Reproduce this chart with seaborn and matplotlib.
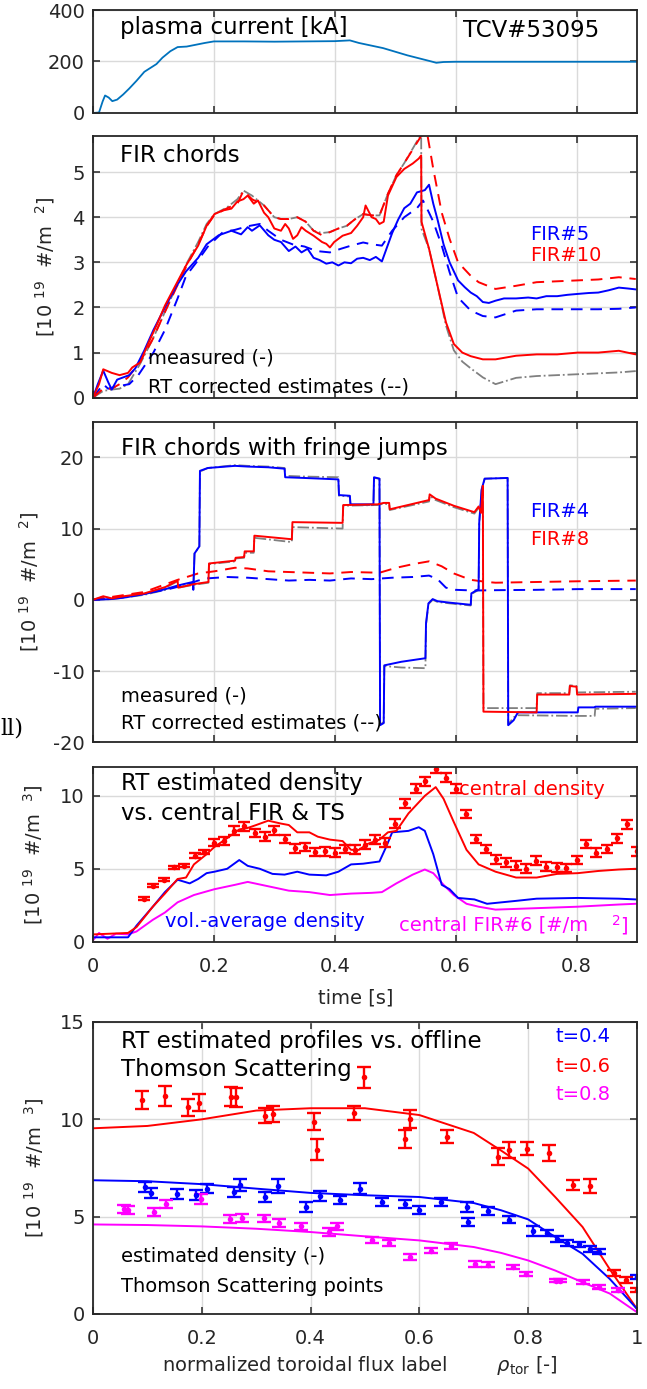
import numpy as np
import matplotlib
matplotlib.use("Agg")
import matplotlib.pyplot as plt
import seaborn as sns

# ---------------- data ----------------
# Panel 1: plasma current [kA]
t_ip = [0, 0.010, 0.016, 0.020, 0.026, 0.032, 0.040, 0.050, 0.060, 0.072, 0.085, 0.095, 0.105, 0.115,
        0.128, 0.140, 0.155, 0.170, 0.185, 0.200, 0.25, 0.30, 0.35, 0.40, 0.425, 0.44, 0.46, 0.48, 0.50,
        0.52, 0.54, 0.56, 0.568, 0.58, 0.60, 0.70, 0.80, 0.90]
ip = [0, 2, 45, 68, 60, 46, 52, 72, 95, 125, 160, 175, 190, 215, 240, 256, 258, 265, 272, 278, 278, 277,
      278, 279, 282, 272, 262, 252, 238, 224, 212, 200, 195, 198, 199, 199, 199, 199]

# Panel 2: FIR chords
t_f5 = [0, 0.008, 0.017, 0.025, 0.031, 0.04, 0.05, 0.06, 0.07, 0.085, 0.1, 0.119, 0.137, 0.154, 0.174, 0.188,
        0.208, 0.229, 0.245, 0.256, 0.263, 0.276, 0.29, 0.3, 0.311, 0.324, 0.335, 0.345, 0.355, 0.365, 0.375,
        0.386, 0.396, 0.406, 0.416, 0.427, 0.437, 0.447, 0.458, 0.468, 0.478, 0.495, 0.505, 0.515, 0.525,
        0.536, 0.549, 0.556, 0.563, 0.57, 0.58, 0.59, 0.604, 0.615, 0.625, 0.635, 0.645, 0.655, 0.666, 0.68,
        0.7, 0.72, 0.734, 0.75, 0.768, 0.785, 0.802, 0.82, 0.836, 0.853, 0.87, 0.885, 0.898]
fir5 = [0, 0.3, 0.6, 0.35, 0.18, 0.4, 0.45, 0.5, 0.65, 1.05, 1.5, 2.0, 2.45, 2.8, 3.1, 3.4, 3.6, 3.7, 3.62,
        3.78, 3.7, 3.82, 3.6, 3.5, 3.45, 3.25, 3.35, 3.22, 3.3, 3.1, 3.05, 2.97, 3.0, 2.93, 3.0, 2.98, 3.08,
        3.1, 3.05, 3.12, 3.02, 3.65, 3.95, 4.2, 4.3, 4.55, 4.6, 4.72, 4.3, 3.95, 3.4, 3.0, 2.6, 2.45, 2.33,
        2.25, 2.12, 2.1, 2.15, 2.2, 2.2, 2.22, 2.2, 2.25, 2.25, 2.28, 2.3, 2.32, 2.33, 2.38, 2.44, 2.42, 2.4]
t_f5r = [0, 0.017, 0.025, 0.04, 0.06, 0.075, 0.1, 0.119, 0.14, 0.154, 0.174, 0.19, 0.215, 0.235, 0.256, 0.276,
         0.29, 0.311, 0.33, 0.35, 0.37, 0.392, 0.41, 0.427, 0.447, 0.461, 0.478, 0.495, 0.515, 0.536, 0.546,
         0.556, 0.563, 0.577, 0.59, 0.604, 0.625, 0.645, 0.666, 0.7, 0.734, 0.768, 0.802, 0.836, 0.87, 0.898]
fir5_rt = [0, 0.3, 0.2, 0.25, 0.3, 0.5, 1.0, 1.5, 2.2, 2.7, 3.05, 3.35, 3.67, 3.72, 3.8, 3.85, 3.7, 3.5, 3.4,
           3.35, 3.25, 3.22, 3.3, 3.37, 3.44, 3.4, 3.37, 3.7, 4.0, 4.2, 4.37, 4.1, 3.9, 3.37, 2.78, 2.22, 1.93,
           1.81, 1.78, 1.93, 1.96, 1.96, 1.96, 1.96, 1.97, 2.0]
t_f10 = [0, 0.01, 0.017, 0.031, 0.044, 0.058, 0.065, 0.078, 0.092, 0.105, 0.119, 0.137, 0.154, 0.174, 0.188,
         0.201, 0.215, 0.229, 0.239, 0.249, 0.256, 0.266, 0.273, 0.283, 0.29, 0.3, 0.311, 0.318, 0.324, 0.331,
         0.338, 0.345, 0.352, 0.365, 0.379, 0.386, 0.392, 0.399, 0.413, 0.427, 0.437, 0.447, 0.451, 0.461,
         0.468, 0.474, 0.481, 0.488, 0.502, 0.515, 0.529, 0.539, 0.543, 0.5435, 0.556, 0.57, 0.584, 0.597,
         0.611, 0.625, 0.645, 0.666, 0.7, 0.734, 0.768, 0.802, 0.836, 0.87, 0.898]
fir10 = [0, 0.3, 0.63, 0.55, 0.5, 0.55, 0.67, 0.78, 1.22, 1.6, 2.04, 2.5, 2.93, 3.37, 3.81, 4.07, 4.15, 4.19,
         4.35, 4.4, 4.48, 4.3, 4.37, 4.1, 4.0, 3.75, 3.7, 3.85, 3.75, 3.52, 3.6, 3.78, 3.7, 3.59, 3.45, 3.41,
         3.33, 3.45, 3.59, 3.65, 3.81, 4.0, 4.26, 4.0, 3.96, 3.85, 3.9, 4.48, 4.89, 5.07, 5.19, 5.3, 5.37, 3.9,
         3.3, 2.48, 1.67, 1.19, 1.0, 0.92, 0.85, 0.85, 0.93, 0.96, 0.96, 1.0, 1.0, 1.04, 0.96]
t_f10r = [0, 0.017, 0.031, 0.044, 0.058, 0.078, 0.099, 0.119, 0.154, 0.174, 0.188, 0.201, 0.222, 0.239, 0.249,
          0.263, 0.283, 0.3, 0.311, 0.324, 0.338, 0.352, 0.365, 0.379, 0.392, 0.406, 0.42, 0.433, 0.447, 0.461,
          0.474, 0.488, 0.502, 0.515, 0.529, 0.543, 0.553, 0.563, 0.577, 0.59, 0.604, 0.625, 0.638, 0.666,
          0.7, 0.734, 0.768, 0.802, 0.836, 0.87, 0.898]
fir10_rt = [0, 0.2, 0.2, 0.3, 0.45, 0.8, 1.3, 1.9, 2.9, 3.4, 3.8, 4.05, 4.2, 4.3, 4.59, 4.4, 4.26, 4.0, 3.96,
            3.96, 4.0, 3.9, 3.7, 3.6, 3.67, 3.75, 3.81, 3.95, 4.07, 4.04, 4.04, 4.52, 4.93, 5.2, 5.5, 5.8, 5.85,
            5.07, 4.1, 3.52, 3.0, 2.7, 2.56, 2.41, 2.48, 2.56, 2.58, 2.6, 2.62, 2.67, 2.63]
t_f10g = [0, 0.017, 0.031, 0.044, 0.058, 0.078, 0.099, 0.119, 0.154, 0.174, 0.188, 0.201, 0.222, 0.239, 0.249,
          0.263, 0.283, 0.3, 0.311, 0.324, 0.338, 0.352, 0.365, 0.379, 0.392, 0.406, 0.42, 0.433, 0.447, 0.461,
          0.474, 0.488, 0.502, 0.515, 0.529, 0.539, 0.543, 0.5435, 0.556, 0.57, 0.584, 0.597, 0.611, 0.625,
          0.645, 0.666, 0.7, 0.734, 0.768, 0.802, 0.836, 0.87, 0.898]
fir10_g = [0, 0.15, 0.18, 0.2, 0.3, 0.75, 1.3, 1.9, 2.95, 3.45, 3.85, 4.07, 4.22, 4.4, 4.59, 4.48, 4.26, 4.0,
           3.96, 3.96, 4.0, 3.9, 3.7, 3.65, 3.67, 3.75, 3.81, 3.95, 4.07, 4.04, 4.04, 4.52, 4.93, 5.2, 5.52,
           5.75, 5.8, 3.74, 3.3, 2.48, 1.6, 1.05, 0.8, 0.65, 0.45, 0.3, 0.44, 0.48, 0.5, 0.52, 0.54, 0.56, 0.59]

# Panel 3: FIR chords with fringe jumps
t_f4 = [0, 0.03, 0.051, 0.085, 0.12, 0.14, 0.165, 0.166, 0.168, 0.172, 0.176, 0.177, 0.19, 0.235, 0.256, 0.29,
        0.317, 0.318, 0.35, 0.406, 0.407, 0.425, 0.426, 0.464, 0.465, 0.474, 0.475, 0.481, 0.482, 0.51, 0.55,
        0.551, 0.555, 0.562, 0.57, 0.59, 0.625, 0.626, 0.638, 0.639, 0.643, 0.648, 0.686, 0.687, 0.696, 0.703,
        0.704, 0.802, 0.803, 0.83, 0.831, 0.898]
fir4 = [0, 0.1, 0.3, 0.8, 1.5, 2.0, 2.5, 1.4, 6.5, 7.0, 7.5, 18.1, 18.5, 18.8, 18.7, 18.6, 18.4, 17.2, 17.1,
        16.9, 14.7, 14.6, 13.4, 13.4, 17.2, 17.0, -17.6, -17.3, -9.2, -8.7, -8.2, -3.3, -0.5, 0.1, -0.2, -0.4,
        -0.7, 0.9, 1.5, 10.8, 15.5, 17.0, 17.1, -17.6, -16.9, -15.8, -15.8, -15.8, -15.1, -15.1, -15.0, -15.0]
fir4_g = [0, 0.1, 0.3, 0.7, 1.4, 1.9, 2.4, 1.4, 6.5, 7.0, 7.5, 18.0, 18.5, 18.9, 18.8, 18.7, 18.5, 17.4, 17.3,
          17.2, 14.6, 14.5, 13.3, 13.3, 17.1, 17.0, -17.5, -17.2, -9.3, -9.5, -9.6, -3.5, -0.6, 0.0, -0.3, -0.5,
          -0.8, 0.8, 1.4, 10.7, 15.4, 17.0, 17.1, -17.5, -16.5, -16.2, -16.2, -16.3, -16.3, -16.3, -15.3, -15.2]
t_f8 = [0, 0.017, 0.031, 0.051, 0.085, 0.12, 0.14, 0.141, 0.167, 0.191, 0.192, 0.235, 0.236, 0.25, 0.251,
        0.266, 0.267, 0.329, 0.33, 0.413, 0.414, 0.471, 0.481, 0.49, 0.491, 0.556, 0.557, 0.567, 0.597, 0.631,
        0.638, 0.642, 0.645, 0.646, 0.734, 0.735, 0.788, 0.789, 0.8, 0.801, 0.898]
fir8 = [0, 0.5, 0.2, 0.5, 0.9, 1.8, 2.7, 1.7, 2.2, 2.5, 5.1, 5.5, 5.9, 6.0, 6.8, 6.8, 9.0, 8.5, 10.9, 10.8,
        13.3, 13.4, 13.6, 13.6, 12.7, 14.0, 14.8, 14.2, 13.2, 12.3, 13.1, 12.2, 16.0, -15.7, -15.8, -13.3,
        -13.3, -12.1, -12.2, -13.3, -13.2]
fir8_g = [0, 0.4, 0.2, 0.4, 0.8, 1.7, 2.6, 1.7, 2.1, 2.4, 5.0, 5.4, 5.8, 5.9, 6.6, 6.6, 8.7, 8.1, 10.2, 10.0,
          13.2, 13.3, 13.5, 13.4, 12.6, 13.8, 14.6, 14.0, 13.0, 12.1, 12.9, 12.1, 15.8, -15.2, -15.2, -13.1,
          -13.1, -12.0, -12.1, -13.0, -12.9]
t_f4r = [0, 0.051, 0.12, 0.154, 0.174, 0.188, 0.222, 0.256, 0.29, 0.324, 0.358, 0.392, 0.427, 0.461, 0.495,
         0.529, 0.556, 0.57, 0.584, 0.6, 0.631, 0.666, 0.734, 0.802, 0.898]
fir4_rt = [0, 0.4, 1.4, 2.1, 2.7, 3.0, 3.2, 3.1, 2.9, 2.7, 2.8, 2.7, 3.0, 2.9, 3.1, 3.2, 3.4, 2.9, 1.7, 1.4,
           1.3, 1.35, 1.4, 1.5, 1.5]
t_f8r = [0, 0.085, 0.14, 0.174, 0.201, 0.235, 0.256, 0.29, 0.324, 0.392, 0.427, 0.474, 0.502, 0.529, 0.556,
         0.577, 0.597, 0.625, 0.652, 0.666, 0.734, 0.802, 0.898]
fir8_rt = [0, 1.1, 2.8, 3.7, 4.0, 4.5, 4.4, 4.0, 3.9, 3.7, 3.9, 3.8, 4.5, 5.0, 5.4, 4.7, 3.7, 2.8, 2.5, 2.4,
           2.5, 2.6, 2.7]

# Panel 4: RT estimated density
t_ne0 = [0, 0.058, 0.072, 0.099, 0.119, 0.14, 0.154, 0.167, 0.188, 0.201, 0.222, 0.242, 0.256, 0.27, 0.29,
         0.311, 0.324, 0.338, 0.358, 0.372, 0.392, 0.413, 0.427, 0.44, 0.454, 0.474, 0.488, 0.502, 0.522,
         0.549, 0.567, 0.58, 0.597, 0.618, 0.638, 0.666, 0.7, 0.734, 0.768, 0.802, 0.836, 0.87, 0.898]
ne0 = [0.5, 0.6, 1.0, 2.4, 3.3, 4.3, 4.4, 5.3, 6.0, 6.5, 7.1, 7.7, 7.8, 8.0, 8.3, 8.1, 8.0, 7.5, 7.5, 7.2, 7.0,
       6.9, 6.3, 6.3, 6.7, 7.0, 7.5, 7.6, 8.8, 10.0, 10.6, 9.8, 8.2, 6.3, 5.3, 4.8, 4.4, 4.4, 4.65, 4.7, 4.85,
       4.95, 5.0]
t_nev = [0, 0.058, 0.072, 0.099, 0.119, 0.14, 0.16, 0.174, 0.188, 0.201, 0.222, 0.242, 0.256, 0.276, 0.297,
         0.317, 0.338, 0.358, 0.386, 0.406, 0.427, 0.447, 0.474, 0.485, 0.495, 0.522, 0.539, 0.549, 0.563,
         0.577, 0.59, 0.604, 0.631, 0.652, 0.7, 0.734, 0.802, 0.87, 0.898]
nevol = [0.3, 0.3, 1.1, 2.4, 3.4, 4.25, 4.0, 4.3, 4.7, 4.8, 5.0, 5.6, 5.2, 5.0, 4.65, 4.6, 4.8, 4.6, 4.55, 4.8,
         5.3, 5.35, 5.5, 6.5, 7.5, 7.6, 7.85, 7.6, 6.0, 3.9, 3.6, 3.0, 2.9, 2.6, 2.8, 2.95, 3.0, 2.95, 2.9]
t_f6 = [0, 0.01, 0.024, 0.038, 0.058, 0.072, 0.099, 0.119, 0.14, 0.167, 0.201, 0.235, 0.256, 0.29, 0.324,
        0.358, 0.392, 0.427, 0.461, 0.478, 0.502, 0.529, 0.549, 0.563, 0.58, 0.597, 0.618, 0.638, 0.666,
        0.734, 0.802, 0.87, 0.898]
fir6 = [0.1, 0.6, 0.2, 0.55, 0.5, 0.7, 1.5, 2.0, 2.7, 3.2, 3.6, 3.9, 4.1, 3.8, 3.5, 3.4, 3.2, 3.3, 3.35, 3.4,
        4.0, 4.6, 4.95, 4.7, 3.9, 3.2, 2.6, 2.4, 2.2, 2.3, 2.4, 2.55, 2.6]
t_ts = [0.084, 0.1, 0.118, 0.134, 0.151, 0.168, 0.184, 0.2, 0.217, 0.234, 0.25, 0.268, 0.284, 0.3, 0.317,
        0.334, 0.35, 0.367, 0.384, 0.4, 0.417, 0.433, 0.45, 0.467, 0.483, 0.5, 0.517, 0.534, 0.55, 0.567,
        0.584, 0.6, 0.617, 0.633, 0.65, 0.667, 0.683, 0.7, 0.717, 0.733, 0.75, 0.767, 0.783, 0.8, 0.816,
        0.833, 0.85, 0.867, 0.883, 0.9]
ne_ts = [2.95, 3.85, 4.25, 5.1, 5.2, 5.9, 6.15, 6.8, 6.9, 7.6, 7.9, 7.45, 7.2, 7.65, 7.05, 6.4, 6.5, 6.15,
         6.2, 6.1, 6.35, 6.3, 6.65, 7.0, 6.8, 8.1, 9.5, 10.5, 11.0, 11.85, 11.25, 10.5, 8.75, 7.05, 6.35, 5.65,
         5.45, 5.2, 5.0, 5.55, 5.15, 5.1, 5.05, 5.6, 6.7, 6.1, 6.35, 7.1, 8.05, 6.2]
ne_ts_err = [0.1, 0.1, 0.1, 0.1, 0.1, 0.15, 0.15, 0.25, 0.25, 0.3, 0.3, 0.3, 0.3, 0.3, 0.3, 0.3, 0.3, 0.3,
             0.3, 0.3, 0.3, 0.3, 0.3, 0.3, 0.3, 0.3, 0.3, 0.3, 0.3, 0.3, 0.3, 0.3, 0.3, 0.3, 0.3, 0.3, 0.3,
             0.3, 0.3, 0.3, 0.3, 0.3, 0.3, 0.3, 0.3, 0.3, 0.3, 0.3, 0.3, 0.3]

# Panel 5: profiles
rho = [0, 0.1, 0.2, 0.3, 0.4, 0.5, 0.6, 0.7, 0.75, 0.8, 0.85, 0.9, 0.95, 1.0]
prof_04 = [6.87, 6.82, 6.67, 6.44, 6.22, 6.1, 6.01, 5.7, 5.33, 4.86, 3.95, 3.09, 1.8, 0.26]
prof_06 = [9.54, 9.66, 10.0, 10.45, 10.57, 10.57, 10.22, 9.3, 8.4, 7.47, 6.0, 4.47, 2.3, 0.26]
prof_08 = [4.6, 4.57, 4.5, 4.38, 4.21, 3.99, 3.78, 3.44, 3.14, 2.75, 2.23, 1.63, 1.05, 0.09]
rho_ts04 = [0.095, 0.106, 0.154, 0.189, 0.209, 0.259, 0.27, 0.316, 0.34, 0.392, 0.418, 0.454, 0.49, 0.532,
            0.573, 0.599, 0.639, 0.688, 0.69, 0.726, 0.764, 0.808, 0.835, 0.853, 0.872, 0.894, 0.913, 0.93, 1.0]
ts04 = [6.53, 6.22, 6.15, 6.1, 6.44, 6.27, 6.62, 6.01, 6.56, 5.5, 6.05, 5.84, 6.44, 5.76, 5.64, 5.36, 5.76,
        5.5, 4.73, 5.29, 4.85, 4.26, 4.16, 3.87, 3.64, 3.57, 3.32, 3.21, 1.89]
ts04_err = [0.25, 0.25, 0.25, 0.25, 0.25, 0.25, 0.3, 0.25, 0.35, 0.25, 0.25, 0.2, 0.3, 0.2, 0.2, 0.2, 0.2,
            0.25, 0.2, 0.2, 0.2, 0.25, 0.15, 0.15, 0.15, 0.15, 0.15, 0.15, 0.1]
rho_ts06 = [0.091, 0.132, 0.175, 0.194, 0.253, 0.262, 0.316, 0.331, 0.407, 0.411, 0.479, 0.498, 0.573, 0.582,
            0.65, 0.744, 0.764, 0.797, 0.839, 0.882, 0.913, 0.958, 0.979, 1.0]
ts06 = [11.0, 11.2, 10.62, 10.86, 11.17, 11.13, 10.19, 10.26, 9.88, 8.45, 10.31, 12.16, 8.99, 10.02, 9.11,
        8.08, 8.42, 8.5, 8.28, 6.62, 6.56, 2.1, 1.75, 1.24]
ts06_err = [0.45, 0.5, 0.45, 0.45, 0.5, 0.5, 0.4, 0.4, 0.45, 0.55, 0.35, 0.55, 0.45, 0.45, 0.35, 0.45, 0.4,
            0.35, 0.4, 0.25, 0.35, 0.15, 0.15, 0.1]
rho_ts08 = [0.057, 0.065, 0.112, 0.135, 0.198, 0.251, 0.274, 0.314, 0.342, 0.383, 0.433, 0.449, 0.513, 0.544,
            0.582, 0.621, 0.658, 0.703, 0.726, 0.772, 0.796, 0.852, 0.859, 0.901, 0.93, 0.966]
ts08 = [5.38, 5.33, 5.24, 5.64, 5.89, 4.86, 4.95, 4.91, 4.67, 4.5, 4.21, 4.5, 3.78, 3.64, 2.92, 3.26, 3.49,
        2.58, 2.53, 2.41, 2.06, 1.72, 1.72, 1.63, 1.37, 1.24]
ts08_err = [0.2, 0.2, 0.2, 0.2, 0.25, 0.2, 0.2, 0.2, 0.2, 0.2, 0.2, 0.2, 0.15, 0.15, 0.15, 0.15, 0.15, 0.15,
            0.12, 0.12, 0.12, 0.1, 0.1, 0.1, 0.1, 0.1]

time_ticks = [0, 0.2, 0.4, 0.6, 0.8]
rho_ticks = [0, 0.2, 0.4, 0.6, 0.8, 1.0]

# ---------------- style ----------------
sns.set_theme(style="white")
plt.rcParams['font.family'] = ['DejaVu Sans']
plt.rcParams['mathtext.fontset'] = 'dejavusans'

BLUE, RED, MAG, GRAY, IPC = '#0000FF', '#FF0000', '#FF00FF', '#808080', '#0072BD'
DARK = '#262626'
TICK_FS = 14
TTL_FS = 16.5   # panel titles
ANN_FS = 14     # secondary annotations
LW = 1.4

fig = plt.figure(figsize=(6.47, 13.89), dpi=100)
L, W = 0.1437, 0.8408
rects = [(0.91865, 0.07415), (0.71368, 0.18841), (0.46559, 0.23082), (0.32203, 0.12599), (0.05400, 0.21022)]
axes = [fig.add_axes([L, b, W, h]) for b, h in rects]


def style(ax, xlim, ylim, xt, yt, xlabels=False):
    ax.set_xlim(*xlim)
    ax.set_ylim(*ylim)
    ax.set_xticks(xt)
    ax.set_yticks(yt)
    ax.grid(True, color='#DADADA', lw=1.0)
    ax.set_axisbelow(True)
    for s in ax.spines.values():
        s.set_color(DARK)
        s.set_linewidth(1.3)
        s.set_zorder(5)
    ax.tick_params(direction='in', length=5, width=1.1, color=DARK, top=True, right=True,
                   labelsize=TICK_FS, labelcolor=DARK, bottom=True, left=True)
    ax.tick_params(axis='y', pad=6)
    ax.tick_params(axis='x', pad=11)
    ax.set_yticklabels([f"{v:g}" for v in yt])
    if xlabels:
        ax.set_xticklabels([f"{v:g}" for v in xt])
    else:
        ax.set_xticklabels([])


def line(ax, x, y, color, ls='-', lw=LW, dashes=None):
    sns.lineplot(x=x, y=y, ax=ax, color=color, linestyle=ls, linewidth=lw,
                 estimator=None, sort=False, legend=False)
    if dashes is not None:
        ax.lines[-1].set_dashes(dashes)


def errpts(ax, x, y, e, color, cap=5):
    ax.errorbar(x, y, yerr=e, fmt='none', ecolor=color, elinewidth=1.7, capsize=cap, capthick=1.7, zorder=3)
    sns.scatterplot(x=x, y=y, ax=ax, color=color, s=16, edgecolor=color, linewidth=0, zorder=4, legend=False)


def txt(ax, x, y, s, fs, color='black'):
    ax.text(x, y, s, transform=ax.transAxes, fontsize=fs, va='center', ha='left', color=color)


ylab = '[10 $^{19}$  #/m  $^{%s}$]'

# Panel 1
ax = axes[0]
line(ax, t_ip, ip, IPC, lw=1.3)
style(ax, (0, 0.9), (0, 400), time_ticks, [0, 200, 400])
txt(ax, 0.05, 0.83, 'plasma current [kA]', TTL_FS)
txt(ax, 0.68, 0.80, 'TCV#53095', TTL_FS)

# Panel 2
ax = axes[1]
line(ax, t_f10g, fir10_g, GRAY, ls='-.', lw=1.3)
line(ax, t_f5r, fir5_rt, BLUE, ls='--', dashes=(6, 4))
line(ax, t_f10r, fir10_rt, RED, ls='--', dashes=(6, 4))
line(ax, t_f5, fir5, BLUE)
line(ax, t_f10, fir10, RED)
style(ax, (0, 0.9), (0, 5.8), time_ticks, [0, 1, 2, 3, 4, 5])
txt(ax, 0.05, 0.927, 'FIR chords', TTL_FS)
txt(ax, 0.803, 0.625, 'FIR#5', ANN_FS, BLUE)
txt(ax, 0.803, 0.545, 'FIR#10', ANN_FS, RED)
txt(ax, 0.101, 0.15, 'measured (-)', ANN_FS)
txt(ax, 0.101, 0.042, 'RT corrected estimates (--)', ANN_FS)
ax.set_ylabel(ylab % '2', fontsize=14, color=DARK, va='center')
ax.yaxis.set_label_coords(-0.088, 0.5)

# Panel 3
ax = axes[2]
line(ax, t_f4, fir4_g, GRAY, ls='-.', lw=1.3)
line(ax, t_f8, fir8_g, GRAY, ls='-.', lw=1.3)
line(ax, t_f4r, fir4_rt, BLUE, ls='--', dashes=(6, 4))
line(ax, t_f8r, fir8_rt, RED, ls='--', dashes=(6, 4))
line(ax, t_f4, fir4, BLUE)
line(ax, t_f8, fir8, RED)
style(ax, (0, 0.9), (-20, 25), time_ticks, [-20, -10, 0, 10, 20])
txt(ax, 0.051, 0.917, 'FIR chords with fringe jumps', TTL_FS)
txt(ax, 0.803, 0.719, 'FIR#4', ANN_FS, BLUE)
txt(ax, 0.803, 0.631, 'FIR#8', ANN_FS, RED)
txt(ax, 0.051, 0.144, 'measured (-)', ANN_FS)
txt(ax, 0.051, 0.059, 'RT corrected estimates (--)', ANN_FS)
ax.set_ylabel(ylab % '2', fontsize=14, color=DARK, va='center')
ax.yaxis.set_label_coords(-0.118, 0.5)

# Panel 4
ax = axes[3]
line(ax, t_f6, fir6, MAG)
line(ax, t_nev, nevol, BLUE)
line(ax, t_ne0, ne0, RED)
errpts(ax, t_ts, ne_ts, ne_ts_err, RED, cap=4)
style(ax, (0, 0.9), (0, 12), time_ticks, [0, 5, 10], xlabels=True)
txt(ax, 0.051, 0.905, 'RT estimated density', TTL_FS)
txt(ax, 0.051, 0.734, 'vs. central FIR & TS', TTL_FS)
txt(ax, 0.673, 0.867, 'central density', ANN_FS, RED)
txt(ax, 0.132, 0.114, 'vol.-average density', ANN_FS, BLUE)
txt(ax, 0.563, 0.095, 'central FIR#6 [#/m', ANN_FS, MAG)
txt(ax, 0.952, 0.095, '$^{2}$]', ANN_FS, MAG)
ax.set_ylabel(ylab % '3', fontsize=14, color=DARK, va='center')
ax.yaxis.set_label_coords(-0.11, 0.5)
ax.set_xlabel('time [s]', fontsize=14, color=DARK, va='center')
ax.xaxis.set_label_coords(0.483, -0.322)

# Panel 5
ax = axes[4]
line(ax, rho, prof_06, RED)
line(ax, rho, prof_04, BLUE)
line(ax, rho, prof_08, MAG)
errpts(ax, rho_ts06, ts06, ts06_err, RED)
errpts(ax, rho_ts04, ts04, ts04_err, BLUE)
errpts(ax, rho_ts08, ts08, ts08_err, MAG)
style(ax, (0, 1), (0, 15), rho_ticks, [0, 5, 10, 15], xlabels=True)
txt(ax, 0.051, 0.933, 'RT estimated profiles vs. offline', TTL_FS)
txt(ax, 0.051, 0.836, 'Thomson Scattering', TTL_FS)
txt(ax, 0.851, 0.95, 't=0.4', ANN_FS, BLUE)
txt(ax, 0.851, 0.847, 't=0.6', ANN_FS, RED)
txt(ax, 0.851, 0.75, 't=0.8', ANN_FS, MAG)
txt(ax, 0.051, 0.196, 'estimated density (-)', ANN_FS)
txt(ax, 0.051, 0.094, 'Thomson Scattering points', ANN_FS)
ax.set_ylabel(ylab % '3', fontsize=14, color=DARK, va='center')
ax.yaxis.set_label_coords(-0.108, 0.5)
ax.set_xlabel(r'normalized toroidal flux label        $\rho_{\rm tor}$ [-]', fontsize=14, color=DARK,
              va='center')
ax.xaxis.set_label_coords(0.491, -0.178)

# stray fragment at left edge
fig.text(0.0, 1 - 729 / 1389, 'll)', fontsize=16, family='DejaVu Serif', va='center', ha='left', color='black')

fig.savefig('out.png', dpi=100)
